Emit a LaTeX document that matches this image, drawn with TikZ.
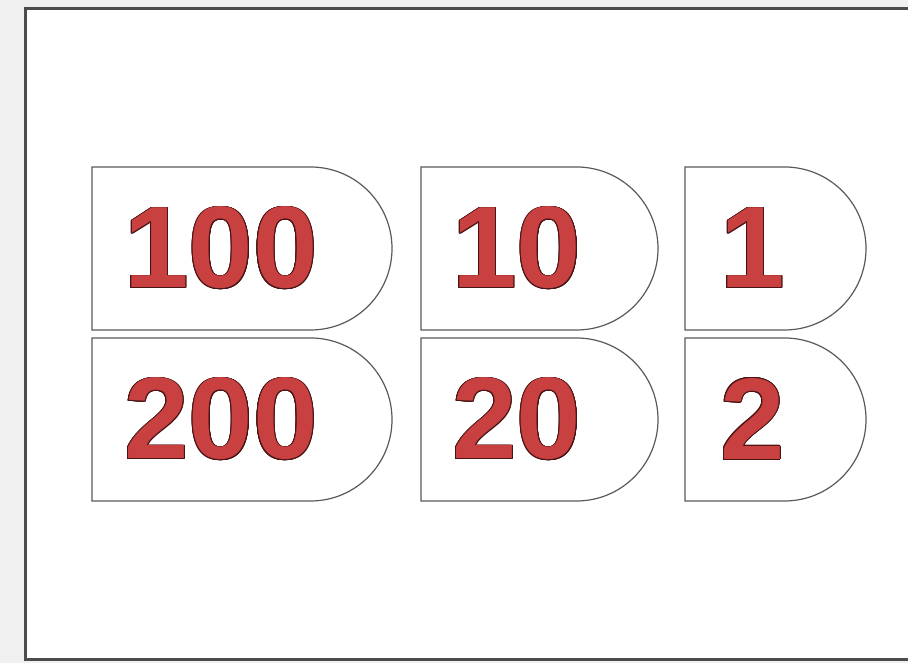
\documentclass[tikz,border=0pt]{standalone}
\usepackage{fontspec}
\setmainfont{Liberation Sans}
\usepackage{contour}
\contourlength{0.9pt}
\definecolor{numred}{HTML}{C94040}
\definecolor{numedge}{HTML}{4A1414}
\definecolor{edgegray}{HTML}{5A5A5A}
\definecolor{framegray}{HTML}{4C4C4C}
\definecolor{pagegray}{HTML}{F0F0F0}

\begin{document}
\begin{tikzpicture}[x=1pt, y=1pt,
    tab/.style={draw=edgegray, line width=1.2pt, fill=white},
    num/.style={anchor=west, inner sep=0pt, font=\fontsize{116}{116}\selectfont\bfseries}]
  \fill[pagegray] (0,0) rectangle (908,663);
  \useasboundingbox (0,0) rectangle (908,663);
  % sheet
  \fill[white] (25,3) rectangle (912,654);
  \draw[framegray, line width=3pt] (912,654) -- (25,654) -- (25,3) -- (912,3);
  % tabs: name/left/width/top/label/text offset
  \foreach \name/\x/\w/\top/\lbl/\dx in {
      hundred/92/300/496/100/32, twohundred/92/300/325/200/32,
      ten/421/237/496/10/31, twenty/421/237/325/20/31,
      one/685/181/496/1/35, two/685/181/325/2/35} {
    \draw[tab] (\x,\top) -- ({\x+\w-81.5},\top) arc (90:-90:81.5) -- (\x,\top-163) -- cycle;
    \node[num] (\name) at ({\x+\dx},{\top-81.5}) {{\color{numred}\contour{numedge}{\lbl}}};
  }
\end{tikzpicture}
\end{document}
